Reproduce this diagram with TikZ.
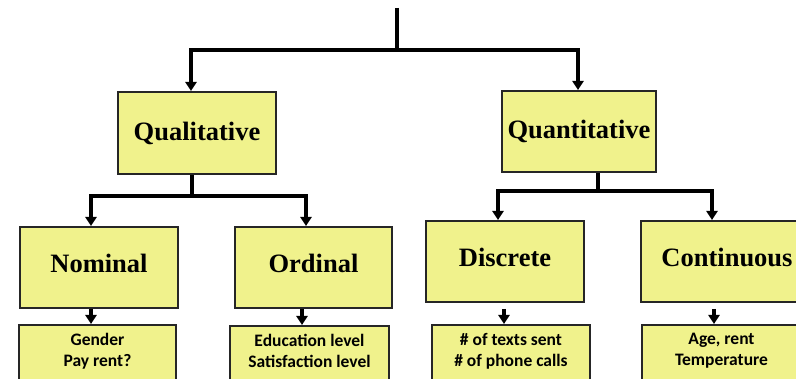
\documentclass[tikz,border=0pt]{standalone}
\usepackage{fontspec}
\setmainfont{Liberation Serif}
\newfontfamily\lblfont{Carlito}
\usetikzlibrary{arrows.meta}
\definecolor{boxfill}{RGB}{240,242,140}
\tikzstyle{box}=[draw=black!85,line width=2pt,fill=boxfill,minimum width=158pt,minimum height=81pt,font=\bfseries\fontsize{26.5}{30}\selectfont]
\tikzstyle{sub}=[text height=17.5pt,text depth=7pt]
\tikzstyle{ex}=[draw=black!85,line width=2pt,fill=boxfill,anchor=north,minimum width=158pt,align=center,inner ysep=8pt,text depth=30pt,font=\lblfont\bfseries\fontsize{17.5}{21.5}\selectfont]
\tikzstyle{conn}=[line width=4pt]
\tikzstyle{arr}=[line width=4pt,-{Triangle[width=11pt,length=9pt]}]

\begin{document}
\begin{tikzpicture}[x=1pt,y=-1pt]
\useasboundingbox (0,0) rectangle (796,379);
\clip (0,0) rectangle (796,379);
% types of data
\node[box,minimum height=82pt] (qual) at (197,133) {Qualitative};
\node[box,minimum width=154pt] (quant) at (579,131.5) {Quantitative};
\node[box,sub] (nom) at (99,267.5) {Nominal};
\node[box,sub,minimum width=157pt] (ord) at (313.5,267.5) {Ordinal};
\node[box,sub] (disc) at (505,261.5) {Discrete};
\node[box,sub,minimum width=172pt] (cont) at (727,261.5) {Continuous};
% examples
\node[ex,minimum width=157pt] (gen) at (97.5,324) {Gender\\Pay rent?};
\node[ex,minimum width=159pt] (edu) at (309.5,325) {Education level\\Satisfaction level};
\node[ex] (txt) at (511,324) {\# of texts sent\\\# of phone calls};
\node[ex,minimum width=159pt] (age) at (721.5,324) {Age, rent\\Temperature};

\coordinate (top) at (397,8);
\coordinate (split) at (397,50);
\draw[conn] (top) -- (split);
\draw[arr] (split) -| ([xshift=-6pt]qual.north);
\draw[arr] (split) -| ([xshift=-1pt]quant.north);

\draw[conn] ([xshift=-5pt]qual.south) -- ++(0,21) coordinate (qsplit);
\draw[arr] (qsplit) -| ([xshift=-8pt]nom.north);
\draw[arr] (qsplit) -| ([xshift=-7.5pt]ord.north);

\draw[conn] ([xshift=19pt]quant.south) -- ++(0,18) coordinate (nsplit);
\draw[arr] (nsplit) -| ([xshift=-7pt]disc.north);
\draw[arr] (nsplit) -| ([xshift=-15pt]cont.north);

\draw[arr,line width=3.5pt] ([xshift=-8pt]nom.south) -- ([xshift=-8pt]nom.south |- gen.north);
\draw[arr,line width=3.5pt] ([xshift=-11.5pt]ord.south) -- ([xshift=-11.5pt]ord.south |- edu.north);
\draw[arr,line width=3.5pt] ([xshift=-1pt,yshift=-6pt]disc.south) -- ([xshift=-1pt]disc.south |- txt.north);
\draw[arr,line width=3.5pt] ([xshift=-13pt,yshift=-6pt]cont.south) -- ([xshift=-13pt]cont.south |- age.north);
\end{tikzpicture}
\end{document}
